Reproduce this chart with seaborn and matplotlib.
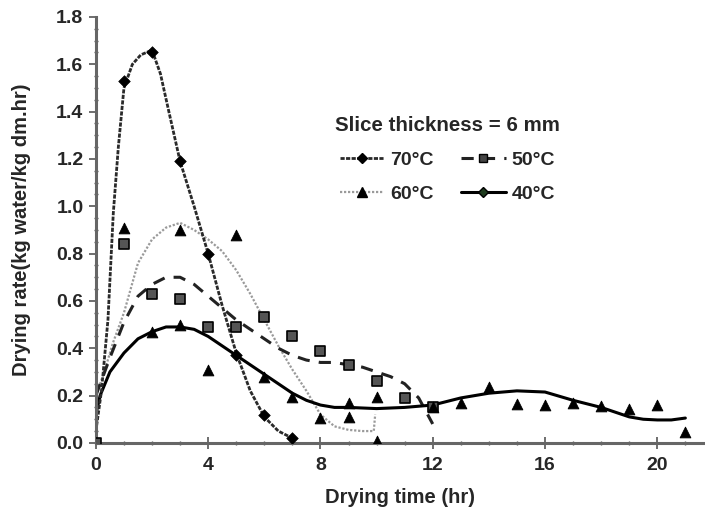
import numpy as np
import pandas as pd
import matplotlib
matplotlib.use("Agg")
import matplotlib.pyplot as plt
from matplotlib.lines import Line2D
from matplotlib.ticker import MultipleLocator
import seaborn as sns

# Measured points (markers)
t70 = [1, 2, 3, 4, 5, 6, 7]
r70 = [1.53, 1.65, 1.19, 0.80, 0.37, 0.12, 0.02]

t50 = [0, 1, 2, 3, 4, 5, 6, 7, 8, 9, 10, 11, 12]
r50 = [0.0, 0.84, 0.63, 0.61, 0.49, 0.49, 0.53, 0.45, 0.39, 0.33, 0.26, 0.19, 0.15]

t60 = [1, 2, 3, 3, 4, 5, 6, 7, 8, 9, 9, 10, 10, 12, 13, 14, 15, 16, 17, 18, 19, 20, 21]
r60 = [0.91, 0.47, 0.50, 0.90, 0.31, 0.88, 0.28, 0.195, 0.105, 0.17, 0.11, 0.195, 0.01,
       0.15, 0.17, 0.235, 0.165, 0.16, 0.17, 0.155, 0.145, 0.16, 0.045]

# Smoothed trend curves
c70_t = [0, 0.2, 0.43, 0.62, 0.8, 1.0, 1.3, 1.6, 2.0, 2.3, 2.6, 3.0, 3.5, 4.0, 4.5, 5.0, 5.5, 6.0, 6.5, 7.0]
c70_r = [0.05, 0.22, 0.52, 0.97, 1.25, 1.50, 1.60, 1.64, 1.66, 1.56, 1.40, 1.19, 1.00, 0.80, 0.58, 0.38, 0.22, 0.11, 0.05, 0.02]

c50_t = [0, 0.5, 1, 1.5, 2, 2.5, 3, 3.5, 4, 4.5, 5, 5.5, 6, 6.5, 7, 7.5, 8, 8.5, 9, 9.5, 10, 10.5, 11, 11.5, 12]
c50_r = [0.2, 0.36, 0.51, 0.62, 0.67, 0.70, 0.70, 0.67, 0.62, 0.57, 0.52, 0.48, 0.44, 0.40, 0.37, 0.35, 0.34, 0.34, 0.33, 0.32, 0.30, 0.28, 0.25, 0.19, 0.08]

c60_t = [0, 0.3, 0.6, 1, 1.5, 2, 2.5, 3, 3.5, 4, 4.5, 5, 5.5, 6, 6.5, 7, 7.5, 8, 8.5, 9, 9.5, 9.9, 9.95]
c60_r = [0.2, 0.3, 0.42, 0.55, 0.76, 0.86, 0.91, 0.93, 0.90, 0.86, 0.81, 0.73, 0.63, 0.52, 0.41, 0.31, 0.22, 0.12, 0.07, 0.055, 0.05, 0.05, 0.12]

c40_t = [0, 0.15, 0.5, 1, 1.5, 2, 2.5, 3, 3.5, 4, 4.5, 5, 5.5, 6, 6.5, 7, 7.5, 8, 8.5, 9, 10, 11, 12,
         13, 14, 15, 16, 17, 18, 19, 19.5, 20, 20.5, 21]
c40_r = [0.12, 0.2, 0.30, 0.38, 0.44, 0.47, 0.49, 0.49, 0.48, 0.45, 0.41, 0.37, 0.33, 0.29, 0.25, 0.21, 0.18,
         0.16, 0.15, 0.15, 0.145, 0.15, 0.16, 0.19, 0.21, 0.22, 0.215, 0.18, 0.15, 0.11, 0.10, 0.097, 0.097, 0.105]

sns.set_style("ticks")
plt.rcParams['font.family'] = ['Liberation Sans', 'DejaVu Sans']
plt.rcParams['font.weight'] = 'bold'

fig = plt.figure(figsize=(7.05, 5.15), dpi=100)
ax = fig.add_axes([0.136, 0.14, 0.864, 0.827])

dark = '#222222'
sty70 = dict(color='#2a2a2a', linewidth=2.0, linestyle=(0, (1.5, 0.5)))
sty50 = dict(color=dark, linewidth=2.2, linestyle=(0, (4, 3)))
sty60 = dict(color='#9a9a9a', linewidth=1.6, linestyle=(0, (1, 0.8)))
sty40 = dict(color='black', linewidth=2.2, linestyle='-')

sns.lineplot(x=c60_t, y=c60_r, ax=ax, sort=False, estimator=None, **sty60)
sns.lineplot(x=c50_t, y=c50_r, ax=ax, sort=False, estimator=None, **sty50)
sns.lineplot(x=c40_t, y=c40_r, ax=ax, sort=False, estimator=None, **sty40)
sns.lineplot(x=c70_t, y=c70_r, ax=ax, sort=False, estimator=None, **sty70)

sns.scatterplot(x=t50, y=r50, ax=ax, marker='s', s=55, color='#555555', edgecolor='black', linewidth=1.2, zorder=5)
sns.scatterplot(x=t60, y=r60, ax=ax, marker='^', s=60, color='black', edgecolor='black', zorder=5)
sns.scatterplot(x=t70, y=r70, ax=ax, marker='D', s=35, color='black', edgecolor='black', zorder=6)

ax.set_xlim(0, 21.7)
ax.set_ylim(0, 1.8)
ax.xaxis.set_major_locator(MultipleLocator(4))
ax.xaxis.set_minor_locator(MultipleLocator(1))
ax.yaxis.set_major_locator(MultipleLocator(0.2))
ax.yaxis.set_minor_locator(MultipleLocator(0.05))
ax.set_yticklabels([f"{v:.1f}" for v in ax.get_yticks()])
ax.tick_params(axis='both', which='major', labelsize=14, length=5, width=1.2, color='#555555')
ax.tick_params(axis='x', which='major', direction='inout', length=8, pad=6)
ax.tick_params(axis='y', which='major', pad=4)
ax.tick_params(axis='both', which='minor', length=3, width=1, color='#555555', direction='inout')
for lab in ax.get_xticklabels() + ax.get_yticklabels():
    lab.set_fontweight('bold')

sns.despine(ax=ax)
for side in ['left', 'bottom']:
    ax.spines[side].set_linewidth(2.2)
    ax.spines[side].set_color('#666666')

ax.set_xlabel('Drying time (hr)', fontsize=14.5, fontweight='bold', labelpad=10)
ax.set_ylabel('Drying rate(kg water/kg dm.hr)', fontsize=14.5, fontweight='bold', labelpad=18)

handles = [
    Line2D([], [], marker='D', markersize=5, markerfacecolor='black', markeredgecolor='black', **sty70),
    Line2D([], [], marker='^', markersize=7, markerfacecolor='black', markeredgecolor='black', **sty60),
    Line2D([], [], marker='s', markersize=6, markerfacecolor='#444444', markeredgecolor='black', **sty50),
    Line2D([], [], marker='D', markersize=5, markerfacecolor='#1d3a1d', markeredgecolor='black', **sty40),
]
labels = ['70°C', '60°C', '50°C', '40°C']
leg = ax.legend(handles, labels, ncol=2, frameon=False, loc='upper left',
                bbox_to_anchor=(0.37, 0.80), title='Slice thickness = 6 mm',
                fontsize=14, title_fontsize=14.8, handlelength=2.3, columnspacing=1.4,
                handletextpad=0.3, labelspacing=0.85, borderpad=0.2)
leg.get_title().set_fontweight('bold')
for txt in leg.get_texts():
    txt.set_fontweight('bold')

fig.savefig('out.png', dpi=100)
